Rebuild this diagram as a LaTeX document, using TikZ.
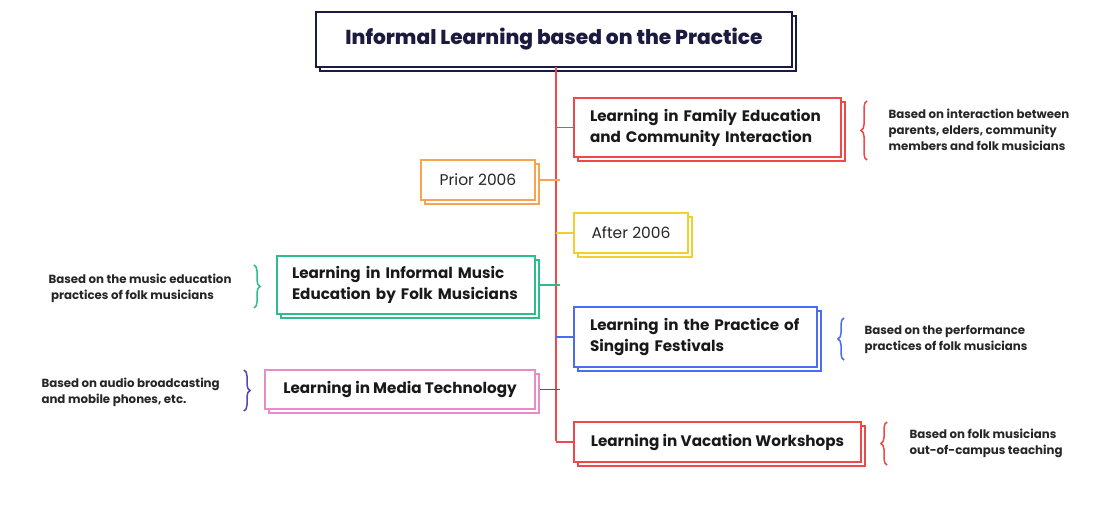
\documentclass[tikz,border=0pt]{standalone}
\usepackage{fontspec}
\setmainfont{Poppins}
\newfontfamily\heavyfont{Poppins ExtraBold}
\usepackage{xcolor}
\usepackage{tikz}
\usetikzlibrary{shadows}
\usetikzlibrary{decorations.pathreplacing}

\definecolor{navy}{HTML}{1B1B40}
\definecolor{tred}{HTML}{F04848}
\definecolor{torange}{HTML}{F7A350}
\definecolor{tyellow}{HTML}{F0D030}
\definecolor{tgreen}{HTML}{2DBD8A}
\definecolor{tpink}{HTML}{E98BC4}
\definecolor{tblue}{HTML}{4A6CF2}
\definecolor{tpurple}{HTML}{4B4BB5}

\begin{document}
\begin{tikzpicture}[x=1pt,y=-1pt,
  card/.style={draw=#1, line width=1.6pt, fill=white, inner sep=0pt,
    general shadow={draw=#1, line width=1.6pt, fill=white, shadow xshift=4pt, shadow yshift=-4pt}},
  mainlabel/.style={font=\bfseries\fontsize{15.2}{21}\selectfont, text=black!90},
  datelabel/.style={font=\fontsize{15.5}{18}\selectfont, text=black!85},
  note/.style={font=\bfseries\fontsize{11.8}{16}\selectfont, text=black!85, align=left, anchor=west},
  branch/.style={draw=#1, line width=1.6pt},
  curly/.style={draw=#1, decorate, decoration={brace, amplitude=6pt}, line width=1.5pt}]

\useasboundingbox (0,0) rectangle (1104,519);

% title and trunk
\node[card=navy, minimum width=476pt, minimum height=55pt,
      font=\heavyfont\fontsize{20.2}{24}\selectfont, text=navy] (title) at (554,39.5) {Informal Learning based on the Practice};
\coordinate (top) at (556,67);
\coordinate (bottom) at (556,441);
\path[branch=tred] (top) -- (bottom);

% right side
\node[card=tred, mainlabel, minimum width=267pt, minimum height=59pt, text width=235pt, align=left] (family) at (707.5,127.5)
  {Learning in Family Education\\and Community Interaction};
\node[card=tyellow, datelabel, minimum width=114pt, minimum height=40pt] (after) at (631,233) {After 2006};
\node[card=tblue, mainlabel, minimum width=243pt, minimum height=60pt, text width=211pt, align=left] (singing) at (695.5,337)
  {Learning in the Practice of\\Singing Festivals};
\node[card=tred, mainlabel, minimum width=287pt, minimum height=40pt] (vacation) at (717.5,442) {Learning in Vacation Workshops};

% left side
\node[card=torange, datelabel, minimum width=114pt, minimum height=40pt] (prior) at (478,180) {Prior 2006};
\node[card=tgreen, mainlabel, minimum width=258pt, minimum height=58pt, text width=228pt, align=left] (informal) at (406,285)
  {Learning in Informal Music\\Education by Folk Musicians};
\node[card=tpink, mainlabel, minimum width=270pt, minimum height=39pt] (media) at (400,389.5) {Learning in Media Technology};

% connectors
\path[branch=tred] (family.west) -- (family.west -| top);
\path[branch=tyellow] (after.west) -- (after.west -| top);
\path[branch=tblue] (singing.west) -- (singing.west -| top);
\path[branch=tred] (vacation.west) -- (vacation.west -| top);
\path[branch=torange] ([xshift=4pt]prior.east) -- ([xshift=4pt]prior.east -| top);
\path[branch=tgreen] ([xshift=4pt]informal.east) -- ([xshift=4pt]informal.east -| top);
\path[branch=tpurple] ([xshift=4pt]media.east) -- ([xshift=4pt]media.east -| top);

% braces and notes
\path[curly=tred] (867,160) -- (867,101);
\node[note] (familynote) at (885,130) {Based on interaction between\\parents, elders, community\\members and folk musicians};
\path[curly=tblue] (844,360) -- (844,318);
\node[note] (singingnote) at (861,339) {Based on the performance\\practices of folk musicians};
\path[curly=tred] (887,465) -- (887,422);
\node[note] (vacationnote) at (906,443.5) {Based on folk musicians\\out-of-campus teaching};
\path[curly=tgreen] (254,265) -- (254,308);
\node[note] (informalnote) at (45,288) {Based on the music education\\\ practices of folk musicians};
\path[curly=tpurple] (244,370) -- (244,411);
\node[note] (medianote) at (38,392) {Based on audio broadcasting\\and mobile phones, etc.};

\end{tikzpicture}
\end{document}
